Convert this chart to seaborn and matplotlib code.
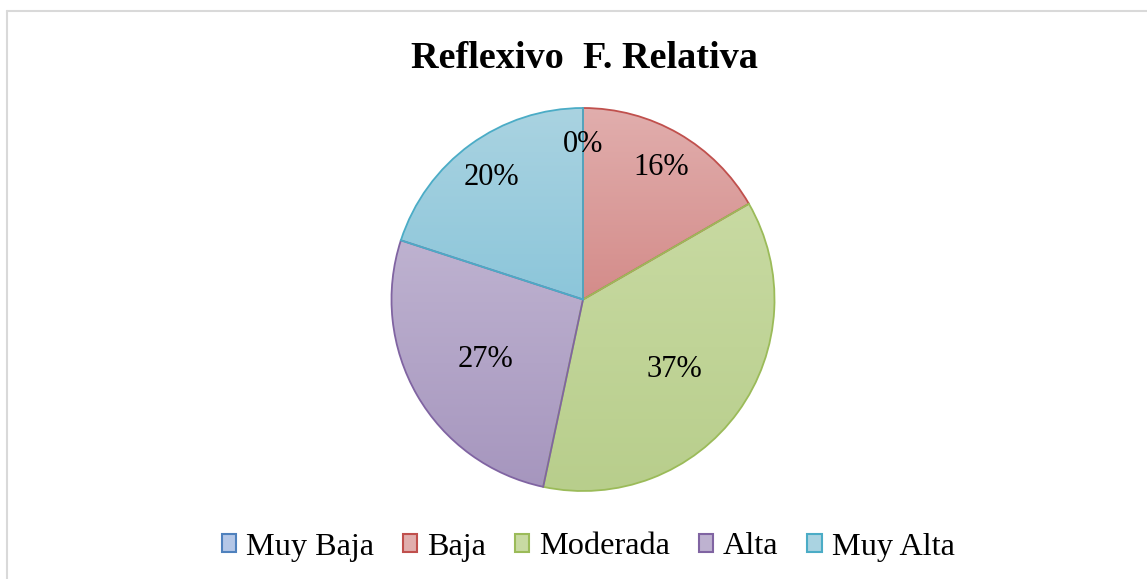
import numpy as np
import matplotlib
matplotlib.use("Agg")
import matplotlib.pyplot as plt
from matplotlib.lines import Line2D
from matplotlib.patches import Patch
from matplotlib.colors import LinearSegmentedColormap
import seaborn as sns

# ---- data ----
categories = ["Muy Baja", "Baja", "Moderada", "Alta", "Muy Alta"]
counts = [0, 5, 11, 8, 6]
pct_labels = ["0%", "16%", "37%", "27%", "20%"]
title = "Reflexivo  F. Relativa"

# ---- style ----
top_colors = ["#B4C7E7", "#E1AEAD", "#C8DAA2", "#BEB2D0", "#AAD3E1"]
bottom_colors = ["#95B0DA", "#D48C8A", "#B8CE8C", "#A696BE", "#8CC6DA"]
edge_colors = ["#4F81BD", "#C0504D", "#9BBB59", "#8064A2", "#4BACC6"]
label_radius = [0.83, 0.82, 0.59, 0.59, 0.81]

sns.set_style("white")
plt.rcParams["font.family"] = ["Liberation Serif", "DejaVu Serif"]
plt.rcParams["text.color"] = "black"

W, H = 1147, 579
fig = plt.figure(figsize=(W / 100, H / 100), dpi=100)
fig.patch.set_facecolor("white")

cx, cy, r = 583, 279.5, 191.5
ax = fig.add_axes([(cx - r) / W, (cy - r) / H, 2 * r / W, 2 * r / H])
wedges, _ = ax.pie(counts, colors=top_colors, startangle=90, counterclock=False,
                   radius=1, wedgeprops=dict(linewidth=1.3))
ax.set_xlim(-1, 1)
ax.set_ylim(-1, 1)
ax.set_aspect("equal")
ax.axis("off")

grad = np.linspace(0, 1, 256).reshape(-1, 1)
for i, w in enumerate(wedges):
    w.set_edgecolor(edge_colors[i])
    w.set_zorder(3)
    if counts[i] == 0:
        continue
    ext = w.get_path().get_extents()
    cmap = LinearSegmentedColormap.from_list("g%d" % i, [top_colors[i], bottom_colors[i]])
    im = ax.imshow(grad, cmap=cmap, aspect="auto", origin="upper",
                   extent=[ext.x0, ext.x1, ext.y0, ext.y1], zorder=2)
    im.set_clip_path(w)
    w.set_facecolor("none")

# labels
total = float(sum(counts))
start = 90.0
for i, v in enumerate(counts):
    span = 360.0 * v / total
    mid = np.deg2rad(start - span / 2)
    start -= span
    rr = label_radius[i]
    ax.text(rr * np.cos(mid), rr * np.sin(mid), pct_labels[i], ha="center",
            va="center_baseline", fontsize=22, color="black", zorder=5)

ax.set_xlim(-1, 1)
ax.set_ylim(-1, 1)

fig.text(584 / W, 1 - 58 / H, title, ha="center", va="center", fontsize=27.5,
         fontweight="bold", color="black")

handles = [Patch(facecolor=top_colors[i], edgecolor=edge_colors[i], linewidth=1.5)
           for i in range(len(categories))]
leg = fig.legend(handles, categories, loc="center", bbox_to_anchor=(588 / W, 1 - 547 / H),
                 ncol=5, frameon=False, fontsize=23.2, handlelength=0.45, handleheight=0.45,
                 handletextpad=0.3, columnspacing=0.9, borderaxespad=0)
for t in leg.get_texts():
    t.set_color("black")

# chart frame
fig.add_artist(Line2D([7 / W, 1], [1 - 11 / H, 1 - 11 / H], transform=fig.transFigure,
                      color="#D9D9D9", linewidth=1.5))
fig.add_artist(Line2D([7 / W, 7 / W], [1 - 11 / H, 0], transform=fig.transFigure,
                      color="#D9D9D9", linewidth=1.5))

fig.savefig("out.png", dpi=100, facecolor="white")
